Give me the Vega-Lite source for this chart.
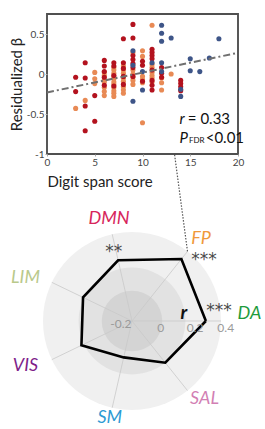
{
  "$schema": "https://vega.github.io/schema/vega-lite/v6.json",
  "padding": {"left": 8, "top": 13, "right": 0, "bottom": 0},
  "spacing": 47,
  "bounds": "flush",
  "resolve": {"scale": {"color": "independent", "fill": "independent"}},
  "config": {"font": "Lato", "view": {"stroke": null}},
  "vconcat": [
    {
      "width": 191,
      "height": 140,
      "view": {"stroke": "#505050", "strokeWidth": 1.9},
      "layer": [
        {
          "data": {"values": [
            {"span":3,"beta":-0.43,"grp":"A"},{"span":4,"beta":-0.33,"grp":"A"},{"span":5,"beta":0.02,"grp":"A"},{"span":5,"beta":-0.06,"grp":"A"},{"span":5,"beta":-0.12,"grp":"A"},
            {"span":6,"beta":0.02,"grp":"A"},{"span":6,"beta":-0.02,"grp":"A"},{"span":6,"beta":-0.07,"grp":"A"},{"span":6,"beta":-0.10,"grp":"A"},{"span":6,"beta":-0.17,"grp":"A"},{"span":6,"beta":-0.22,"grp":"A"},{"span":6,"beta":-0.27,"grp":"A"},
            {"span":7,"beta":0.08,"grp":"A"},{"span":7,"beta":0.05,"grp":"A"},{"span":7,"beta":0.01,"grp":"A"},{"span":7,"beta":-0.03,"grp":"A"},{"span":7,"beta":-0.06,"grp":"A"},{"span":7,"beta":-0.10,"grp":"A"},{"span":7,"beta":-0.13,"grp":"A"},{"span":7,"beta":-0.17,"grp":"A"},{"span":7,"beta":-0.21,"grp":"A"},{"span":7,"beta":-0.24,"grp":"A"},{"span":7,"beta":-0.28,"grp":"A"},
            {"span":8,"beta":0.10,"grp":"A"},{"span":8,"beta":0.05,"grp":"A"},{"span":8,"beta":0.01,"grp":"A"},{"span":8,"beta":-0.05,"grp":"A"},{"span":8,"beta":-0.09,"grp":"A"},{"span":8,"beta":-0.16,"grp":"A"},{"span":8,"beta":-0.20,"grp":"A"},{"span":8,"beta":-0.24,"grp":"A"},
            {"span":9,"beta":0.27,"grp":"A"},{"span":9,"beta":0.05,"grp":"A"},{"span":9,"beta":0.0,"grp":"A"},{"span":9,"beta":-0.04,"grp":"A"},{"span":9,"beta":-0.08,"grp":"A"},{"span":9,"beta":-0.13,"grp":"A"},
            {"span":10,"beta":0.29,"grp":"A"},{"span":10,"beta":0.22,"grp":"A"},{"span":10,"beta":-0.03,"grp":"A"},{"span":10,"beta":-0.07,"grp":"A"},{"span":10,"beta":-0.11,"grp":"A"},{"span":10,"beta":-0.61,"grp":"A"},
            {"span":11,"beta":0.61,"grp":"A"},{"span":11,"beta":0.12,"grp":"A"},{"span":11,"beta":0.08,"grp":"A"},{"span":11,"beta":0.02,"grp":"A"},{"span":11,"beta":-0.02,"grp":"A"},{"span":11,"beta":-0.05,"grp":"A"},{"span":11,"beta":-0.10,"grp":"A"},
            {"span":12,"beta":-0.05,"grp":"A"},{"span":12,"beta":-0.11,"grp":"A"},{"span":12,"beta":-0.20,"grp":"A"},{"span":13,"beta":0.0,"grp":"A"},
            {"span":3,"beta":-0.04,"grp":"B"},{"span":3,"beta":-0.22,"grp":"B"},
            {"span":4,"beta":0.14,"grp":"B"},{"span":4,"beta":-0.05,"grp":"B"},{"span":4,"beta":-0.40,"grp":"B"},{"span":4,"beta":-0.71,"grp":"B"},
            {"span":5,"beta":-0.27,"grp":"B"},{"span":5,"beta":-0.59,"grp":"B"},
            {"span":6,"beta":0.17,"grp":"B"},{"span":6,"beta":0.10,"grp":"B"},{"span":6,"beta":0.03,"grp":"B"},{"span":6,"beta":-0.04,"grp":"B"},{"span":6,"beta":-0.14,"grp":"B"},
            {"span":7,"beta":0.14,"grp":"B"},{"span":7,"beta":0.10,"grp":"B"},{"span":7,"beta":-0.02,"grp":"B"},{"span":7,"beta":-0.15,"grp":"B"},
            {"span":8,"beta":0.44,"grp":"B"},{"span":8,"beta":0.14,"grp":"B"},{"span":8,"beta":0.07,"grp":"B"},{"span":8,"beta":-0.03,"grp":"B"},{"span":8,"beta":-0.13,"grp":"B"},
            {"span":9,"beta":0.62,"grp":"B"},{"span":9,"beta":0.45,"grp":"B"},{"span":9,"beta":0.23,"grp":"B"},{"span":9,"beta":0.18,"grp":"B"},{"span":9,"beta":0.13,"grp":"B"},{"span":9,"beta":0.08,"grp":"B"},{"span":9,"beta":-0.03,"grp":"B"},
            {"span":10,"beta":0.16,"grp":"B"},{"span":10,"beta":0.11,"grp":"B"},{"span":10,"beta":-0.09,"grp":"B"},
            {"span":11,"beta":0.31,"grp":"B"},{"span":11,"beta":0.27,"grp":"B"},{"span":11,"beta":0.23,"grp":"B"},{"span":11,"beta":0.19,"grp":"B"},{"span":11,"beta":0.05,"grp":"B"},{"span":11,"beta":-0.08,"grp":"B"},{"span":11,"beta":-0.14,"grp":"B"},{"span":11,"beta":-0.20,"grp":"B"},
            {"span":12,"beta":0.08,"grp":"B"},{"span":12,"beta":0.01,"grp":"B"},{"span":12,"beta":-0.04,"grp":"B"},
            {"span":14,"beta":-0.08,"grp":"B"},{"span":14,"beta":-0.12,"grp":"B"},{"span":14,"beta":-0.16,"grp":"B"},{"span":14,"beta":-0.21,"grp":"B"},
            {"span":9,"beta":0.29,"grp":"C"},{"span":9,"beta":0.11,"grp":"C"},{"span":9,"beta":-0.34,"grp":"C"},
            {"span":10,"beta":0.03,"grp":"C"},{"span":10,"beta":-0.20,"grp":"C"},{"span":11,"beta":0.14,"grp":"C"},
            {"span":12,"beta":0.61,"grp":"C"},{"span":12,"beta":0.51,"grp":"C"},{"span":12,"beta":0.41,"grp":"C"},{"span":12,"beta":0.14,"grp":"C"},{"span":12,"beta":0.03,"grp":"C"},
            {"span":13,"beta":0.45,"grp":"C"},{"span":14,"beta":-0.19,"grp":"C"},{"span":14,"beta":-0.28,"grp":"C"},
            {"span":15,"beta":0.19,"grp":"C"},{"span":15,"beta":0.04,"grp":"C"},{"span":16,"beta":0.03,"grp":"C"},{"span":17,"beta":0.20,"grp":"C"},{"span":18,"beta":0.44,"grp":"C"}
          ]},
          "mark": {"type": "circle", "size": 26, "opacity": 1},
          "encoding": {
            "x": {"field": "span", "type": "quantitative", "title": "Digit span score",
              "scale": {"domain": [0, 20], "nice": false, "zero": false},
              "axis": {"values": [0, 5, 10, 15, 20], "domain": false, "grid": false, "tickSize": 2, "tickColor": "#aaaaaa",
                "labelFontSize": 10, "labelColor": "#444444", "labelPadding": 1, "labelFlush": false,
                "titleFontSize": 15, "titleFontWeight": "normal", "titleColor": "#222222", "titleAnchor": "start", "titlePadding": 7}},
            "y": {"field": "beta", "type": "quantitative", "title": "Residualized β",
              "scale": {"domain": [-1, 0.75], "nice": false, "zero": false},
              "axis": {"values": [-1, -0.5, 0, 0.5], "labelExpr": "'' + datum.value", "domain": false, "grid": false, "tickSize": 2, "tickColor": "#aaaaaa",
                "labelFontSize": 10, "labelColor": "#444444", "labelPadding": 1, "labelFlush": false,
                "titleFontSize": 15, "titleFontWeight": "normal", "titleColor": "#222222", "titlePadding": 2}},
            "color": {"field": "grp", "type": "nominal", "legend": null,
              "scale": {"domain": ["A", "B", "C"], "range": ["#e88a55", "#b3121e", "#3e5588"]}}
          }
        },
        {
          "data": {"values": [{"span": 0, "beta": -0.23}, {"span": 20, "beta": 0.265}]},
          "mark": {"type": "line", "color": "#707070", "strokeWidth": 2, "strokeDash": [7, 3, 2, 3]},
          "encoding": {
            "x": {"field": "span", "type": "quantitative"},
            "y": {"field": "beta", "type": "quantitative"}
          }
        },
        {
          "data": {"values": [{"t": "r", "span": 13.87, "beta": -0.621}, {"t": "P", "span": 13.87, "beta": -0.859}]},
          "mark": {"type": "text", "align": "left", "baseline": "alphabetic", "fontSize": 15, "fontStyle": "italic", "color": "#111111"},
          "encoding": {
            "x": {"field": "span", "type": "quantitative"},
            "y": {"field": "beta", "type": "quantitative"},
            "text": {"field": "t"}
          }
        },
        {
          "data": {"values": [{"t": "= 0.33", "span": 14.75, "beta": -0.621}, {"t": "<0.01", "span": 16.62, "beta": -0.859}]},
          "mark": {"type": "text", "align": "left", "baseline": "alphabetic", "fontSize": 15, "color": "#111111"},
          "encoding": {
            "x": {"field": "span", "type": "quantitative"},
            "y": {"field": "beta", "type": "quantitative"},
            "text": {"field": "t"}
          }
        },
        {
          "data": {"values": [{"t": "FDR", "span": 14.87, "beta": -0.859}]},
          "mark": {"type": "text", "align": "left", "baseline": "alphabetic", "fontSize": 8, "color": "#111111"},
          "encoding": {
            "x": {"field": "span", "type": "quantitative"},
            "y": {"field": "beta", "type": "quantitative"},
            "text": {"field": "t"}
          }
        }
      ]
    },
    {
      "width": 217,
      "height": 229,
      "layer": [
        {
          "data": {"values": [{"ring": "outer", "cx": 0, "cy": 0, "d": 1.0}, {"ring": "mid", "cx": 0, "cy": 0, "d": 0.6}, {"ring": "inner", "cx": 0, "cy": 0, "d": 0.34}]},
          "mark": {"type": "arc", "theta": 0, "theta2": 6.2832},
          "encoding": {
            "x": {"field": "cx", "type": "quantitative", "scale": {"domain": [-0.955, 1.483], "nice": false, "zero": false}, "axis": null},
            "y": {"field": "cy", "type": "quantitative", "scale": {"domain": [-1.2247, 1.348], "nice": false, "zero": false}, "axis": null},
            "radius": {"field": "d", "type": "quantitative", "stack": null, "scale": {"type": "linear", "domain": [0, 1], "range": [0, 89], "zero": true, "nice": false}},
            "fill": {"field": "ring", "type": "nominal", "legend": null,
              "scale": {"domain": ["outer", "mid", "inner"], "range": ["#f0f0f0", "#e2e2e2", "#d4d4d4"]}}
          }
        },
        {
          "data": {"values": [
            {"net": "DA", "x0": 0, "y0": 0, "ex": 1.0, "ey": 0.0}, {"net": "FP", "x0": 0, "y0": 0, "ex": 0.6235, "ey": 0.7818}, {"net": "DMN", "x0": 0, "y0": 0, "ex": -0.2225, "ey": 0.9749},
            {"net": "LIM", "x0": 0, "y0": 0, "ex": -0.901, "ey": 0.4339}, {"net": "VIS", "x0": 0, "y0": 0, "ex": -0.901, "ey": -0.4339}, {"net": "SM", "x0": 0, "y0": 0, "ex": -0.2225, "ey": -0.9749},
            {"net": "SAL", "x0": 0, "y0": 0, "ex": 0.6235, "ey": -0.7818}
          ]},
          "mark": {"type": "rule", "color": "#c9c9c9", "strokeWidth": 0.8},
          "encoding": {
            "x": {"field": "x0", "type": "quantitative", "scale": {"domain": [-0.955, 1.483], "nice": false, "zero": false}, "axis": null},
            "y": {"field": "y0", "type": "quantitative", "scale": {"domain": [-1.2247, 1.348], "nice": false, "zero": false}, "axis": null},
            "x2": {"field": "ex"},
            "y2": {"field": "ey"}
          }
        },
        {
          "data": {"values": [{"x1": 0.6235, "y1": 0.7818, "x2": 0.4775, "y2": 1.876}]},
          "mark": {"type": "rule", "color": "#555555", "strokeWidth": 1.2, "strokeDash": [1.5, 1.5]},
          "encoding": {
            "x": {"field": "x1", "type": "quantitative", "scale": {"domain": [-0.955, 1.483], "nice": false, "zero": false}, "axis": null},
            "y": {"field": "y1", "type": "quantitative", "scale": {"domain": [-1.2247, 1.348], "nice": false, "zero": false}, "axis": null},
            "x2": {"field": "x2"},
            "y2": {"field": "y2"}
          }
        },
        {
          "data": {"values": [
            {"i": 0, "net": "DA", "x": 0.83, "y": 0.0},
            {"i": 1, "net": "FP", "x": 0.555, "y": 0.696},
            {"i": 2, "net": "DMN", "x": -0.156, "y": 0.682},
            {"i": 3, "net": "LIM", "x": -0.55, "y": 0.265},
            {"i": 4, "net": "VIS", "x": -0.568, "y": -0.273},
            {"i": 5, "net": "SM", "x": -0.093, "y": -0.409},
            {"i": 6, "net": "SAL", "x": 0.374, "y": -0.469},
            {"i": 7, "net": "DA", "x": 0.83, "y": 0.0}
          ]},
          "mark": {"type": "line", "color": "#000000", "strokeWidth": 2.6, "strokeJoin": "miter"},
          "encoding": {
            "x": {"field": "x", "type": "quantitative", "scale": {"domain": [-0.955, 1.483], "nice": false, "zero": false}, "axis": null},
            "y": {"field": "y", "type": "quantitative", "scale": {"domain": [-1.2247, 1.348], "nice": false, "zero": false}, "axis": null},
            "order": {"field": "i", "type": "quantitative"}
          }
        },
        {
          "data": {"values": [
            {"t": "-0.2", "x": -0.124, "y": -0.034}, {"t": "0", "x": 0.322, "y": -0.079},
            {"t": "0.2", "x": 0.708, "y": -0.079}, {"t": "0.4", "x": 1.053, "y": -0.079}
          ]},
          "mark": {"type": "text", "align": "center", "baseline": "middle", "fontSize": 12, "color": "#9a9a9a"},
          "encoding": {
            "x": {"field": "x", "type": "quantitative", "scale": {"domain": [-0.955, 1.483], "nice": false, "zero": false}, "axis": null},
            "y": {"field": "y", "type": "quantitative", "scale": {"domain": [-1.2247, 1.348], "nice": false, "zero": false}, "axis": null},
            "text": {"field": "t"}
          }
        },
        {
          "data": {"values": [
            {"t": "**", "x": -0.206, "y": 0.794}, {"t": "***", "x": 0.809, "y": 0.711}, {"t": "***", "x": 0.978, "y": 0.131}
          ]},
          "mark": {"type": "text", "align": "center", "baseline": "middle", "font": "DejaVu Sans", "fontSize": 17, "color": "#4a4a4a", "dy": 2},
          "encoding": {
            "x": {"field": "x", "type": "quantitative", "scale": {"domain": [-0.955, 1.483], "nice": false, "zero": false}, "axis": null},
            "y": {"field": "y", "type": "quantitative", "scale": {"domain": [-1.2247, 1.348], "nice": false, "zero": false}, "axis": null},
            "text": {"field": "t"}
          }
        },
        {
          "data": {"values": [{"t": "r", "x": 0.584, "y": 0.093}]},
          "mark": {"type": "text", "align": "center", "baseline": "middle", "fontSize": 19, "fontStyle": "italic", "fontWeight": "bold", "color": "#111111"},
          "encoding": {
            "x": {"field": "x", "type": "quantitative", "scale": {"domain": [-0.955, 1.483], "nice": false, "zero": false}, "axis": null},
            "y": {"field": "y", "type": "quantitative", "scale": {"domain": [-1.2247, 1.348], "nice": false, "zero": false}, "axis": null},
            "text": {"field": "t"}
          }
        },
        {
          "data": {"values": [
            {"net": "DMN", "x": -0.258, "y": 1.146}, {"net": "FP", "x": 0.775, "y": 0.921}, {"net": "DA", "x": 1.32, "y": 0.075},
            {"net": "SAL", "x": 0.815, "y": -0.876}, {"net": "SM", "x": -0.25, "y": -1.09}, {"net": "VIS", "x": -1.197, "y": -0.506},
            {"net": "LIM", "x": -1.197, "y": 0.487}
          ]},
          "mark": {"type": "text", "align": "center", "baseline": "middle", "fontSize": 18, "fontStyle": "italic"},
          "encoding": {
            "x": {"field": "x", "type": "quantitative", "scale": {"domain": [-0.955, 1.483], "nice": false, "zero": false}, "axis": null},
            "y": {"field": "y", "type": "quantitative", "scale": {"domain": [-1.2247, 1.348], "nice": false, "zero": false}, "axis": null},
            "text": {"field": "net"},
            "color": {"field": "net", "type": "nominal", "legend": null,
              "scale": {"domain": ["DMN", "FP", "DA", "SAL", "SM", "VIS", "LIM"],
                        "range": ["#d7265b", "#f0993b", "#1e9b3c", "#d27fb4", "#2d9ad3", "#7e1e8a", "#b9c98b"]}}
          }
        }
      ]
    }
  ]
}
